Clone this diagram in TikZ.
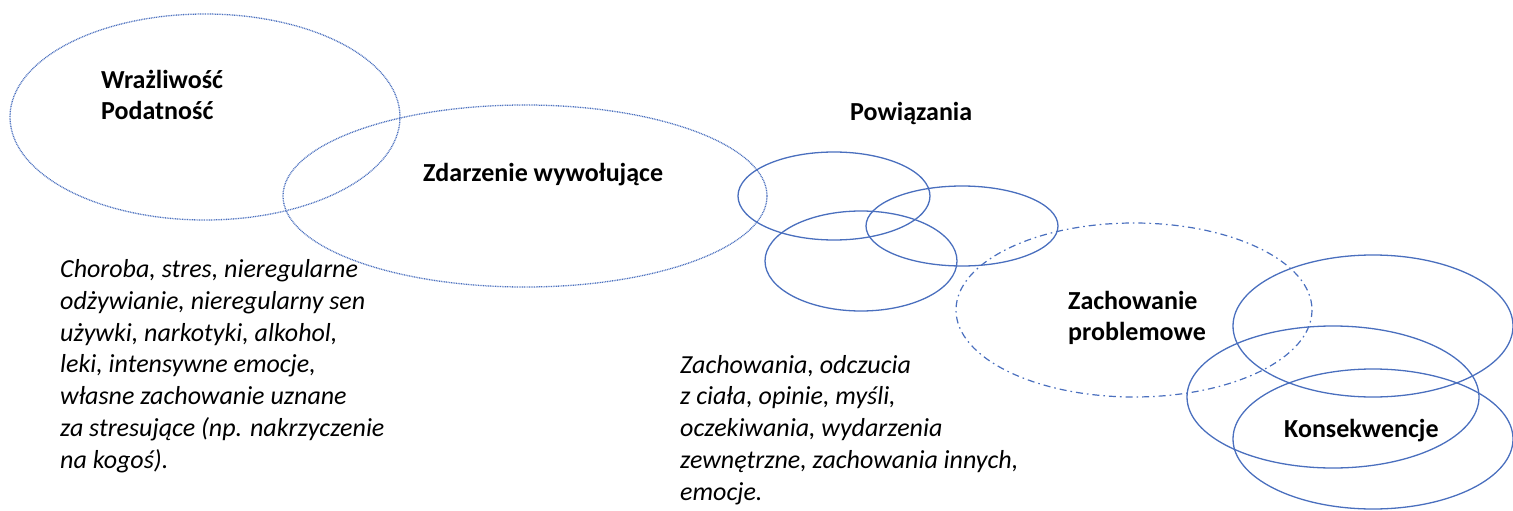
\documentclass[tikz,border=0pt]{standalone}
\usepackage{fontspec}
\setmainfont{Carlito}
\definecolor{ringblue}{HTML}{4A6FBE}
\tikzset{
  ring/.style={draw=ringblue, line width=1.3pt},
  dotring/.style={draw=ringblue, line width=1.3pt, dash pattern=on 0.9pt off 0.8pt},
  dashdotring/.style={draw=ringblue, line width=1.2pt, dash pattern=on 7pt off 4pt on 1.6pt off 4pt},
  heading/.style={font=\fontsize{26}{31}\selectfont\bfseries, inner sep=0pt, anchor=base west, align=left},
  note/.style={font=\fontsize{26}{31.7}\selectfont\itshape, inner sep=0pt, anchor=base west, align=left},
}
\begin{document}
\begin{tikzpicture}[x=1pt, y=-1pt]
\useasboundingbox (0,0) rectangle (1513,511);

% dotted outer rings
\draw[dotring] (205,117) ellipse [x radius=195, y radius=103];
\draw[dotring] (525,196) ellipse [x radius=242, y radius=91];

% three linked rings
\draw[ring] (834,196) ellipse [x radius=96, y radius=44];
\draw[ring] (962,226) ellipse [x radius=96, y radius=40];
\draw[ring] (861,261) ellipse [x radius=96, y radius=50];

% problem behaviour ring
\draw[dashdotring] (1134,310) ellipse [x radius=178, y radius=87];

% consequence rings
\draw[ring] (1373,326) ellipse [x radius=140, y radius=71];
\draw[ring] (1333,397) ellipse [x radius=146, y radius=71];
\draw[ring] (1373,439) ellipse [x radius=140, y radius=70];

% labels (multi-line nodes are placed by the baseline of their last line)
\node[heading] (vuln) at (101,119) {Wrażliwość\\Podatność};
\node[heading] (trig) at (423,181) {Zdarzenie wywołujące};
\node[heading] (links) at (850,120) {Powiązania};
\node[heading] (behav) at (1068,340) {Zachowanie\\problemowe};
\node[heading] (cons) at (1284,437) {Konsekwencje};

\node[note] (trignote) at (60,468) {Choroba, stres, nieregularne\\odżywianie, nieregularny sen\\używki, narkotyki, alkohol,\\leki, intensywne emocje,\\własne zachowanie uznane\\za stresujące (np. nakrzyczenie\\na kogoś).};
\node[note] (linknote) at (680,500) {Zachowania, odczucia\\z ciała, opinie, myśli,\\oczekiwania, wydarzenia\\zewnętrzne, zachowania innych,\\emocje.};
\end{tikzpicture}
\end{document}
